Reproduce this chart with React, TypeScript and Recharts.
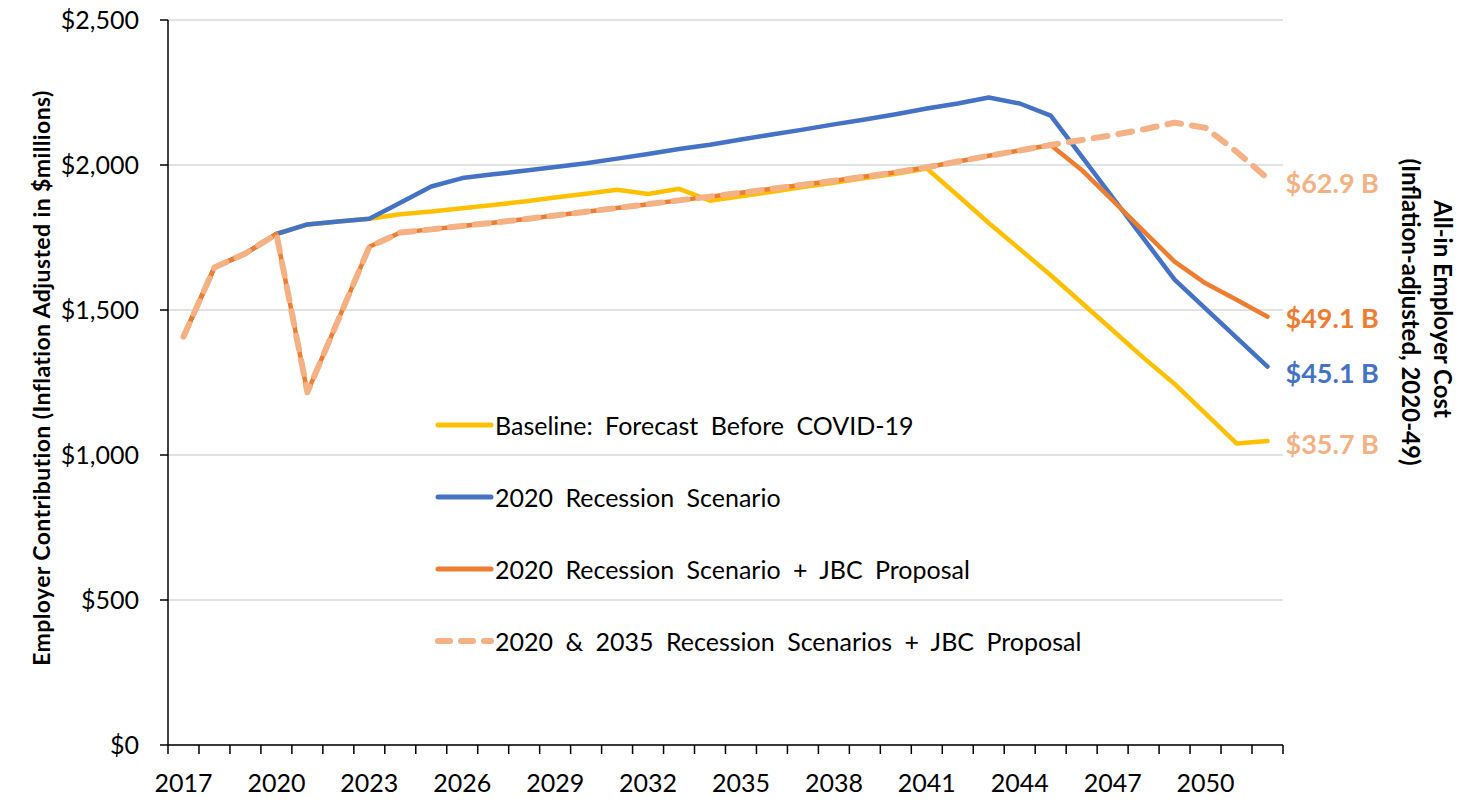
import { CartesianGrid, LabelList, Legend, Line, LineChart, XAxis, YAxis } from "recharts";

const YEARS = [
  2017, 2018, 2019, 2020, 2021, 2022, 2023, 2024, 2025, 2026, 2027, 2028,
  2029, 2030, 2031, 2032, 2033, 2034, 2035, 2036, 2037, 2038, 2039, 2040,
  2041, 2042, 2043, 2044, 2045, 2046, 2047, 2048, 2049, 2050, 2051, 2052,
];

// $ millions, inflation adjusted
const BASELINE = [
  1408, 1647, 1695, 1762, 1795, 1805, 1815, 1830, 1840, 1851, 1862, 1874,
  1888, 1901, 1915, 1900, 1918, 1877, 1892, 1908, 1924, 1939, 1955, 1970,
  1988, 1895, 1800, 1710, 1620, 1525, 1430, 1335, 1245, 1143, 1040, 1048,
];

const RECESSION = [
  1408, 1647, 1695, 1762, 1795, 1805, 1815, 1870, 1926, 1955, 1968, 1980,
  1993, 2006, 2022, 2038, 2055, 2070, 2088, 2105, 2122, 2140, 2157, 2175,
  2195, 2212, 2233, 2212, 2170, 2030, 1888, 1746, 1605, 1505, 1405, 1305,
];

const RECESSION_JBC = [
  1408, 1647, 1695, 1762, 1216, 1467, 1718, 1767, 1778, 1790, 1801, 1813,
  1826, 1839, 1852, 1865, 1878, 1891, 1904, 1918, 1932, 1946, 1960, 1975,
  1992, 2012, 2032, 2050, 2069, 1983, 1878, 1772, 1667, 1592, 1535, 1477,
];

const TWO_RECESSIONS_JBC = [
  1408, 1647, 1695, 1762, 1216, 1467, 1718, 1767, 1778, 1790, 1801, 1813,
  1826, 1839, 1852, 1865, 1878, 1891, 1904, 1918, 1932, 1946, 1960, 1975,
  1992, 2012, 2032, 2050, 2069, 2086, 2103, 2123, 2146, 2128, 2046, 1954,
];

const Y_TICKS = [0, 500, 1000, 1500, 2000, 2500];

const SERIES = [
  {
    key: "baseline",
    name: "Baseline: Forecast Before COVID-19",
    values: BASELINE,
    color: "#FFC000",
    endLabel: "$35.7 B",
    labelColor: "#F4B183",
    labelDy: 2,
  },
  {
    key: "recession",
    name: "2020 Recession Scenario",
    values: RECESSION,
    color: "#4472C4",
    endLabel: "$45.1 B",
    labelColor: "#4472C4",
    labelDy: 6,
  },
  {
    key: "recessionJbc",
    name: "2020 Recession Scenario + JBC Proposal",
    values: RECESSION_JBC,
    color: "#ED7D31",
    endLabel: "$49.1 B",
    labelColor: "#ED7D31",
    labelDy: 1,
  },
  {
    key: "twoRecessionsJbc",
    name: "2020 & 2035 Recession Scenarios + JBC Proposal",
    values: TWO_RECESSIONS_JBC,
    color: "#F4B183",
    dash: "14 11",
    endLabel: "$62.9 B",
    labelColor: "#F4B183",
    labelDy: 4,
  },
];

const data = YEARS.map((year, i) => {
  const row: Record<string, number> = { year };
  SERIES.forEach((s) => {
    row[s.key] = s.values[i];
  });
  return row;
});

const FONT = "Lato, 'Open Sans', sans-serif";
const HALF_STEP = 15.5;
const LAST_YEAR = YEARS[YEARS.length - 1];

function YearTick(props: any) {
  const { x, y, payload } = props;
  const year = payload.value;
  return (
    <g>
      <line x1={x - HALF_STEP} x2={x - HALF_STEP} y1={y} y2={y + 9} stroke="#000" strokeWidth={1.5} />
      {year === LAST_YEAR && (
        <line x1={x + HALF_STEP} x2={x + HALF_STEP} y1={y} y2={y + 9} stroke="#000" strokeWidth={1.5} />
      )}
      {(year - YEARS[0]) % 3 === 0 && (
        <text x={x} y={y + 47} textAnchor="middle" fontFamily={FONT} fontSize={25} fill="#000">
          {year}
        </text>
      )}
    </g>
  );
}

function makeEndLabel(s: (typeof SERIES)[number]) {
  return (props: any) => {
    if (props.index !== YEARS.length - 1) return null;
    return (
      <text
        x={props.x + 18}
        y={props.y + s.labelDy}
        dominantBaseline="central"
        fontFamily={FONT}
        fontSize={27}
        fontWeight="bold"
        fill={s.labelColor}
      >
        {s.endLabel}
      </text>
    );
  };
}

function LegendBox() {
  return (
    <div style={{ fontFamily: FONT }}>
      {SERIES.map((s) => (
        <div key={s.key} style={{ display: "flex", alignItems: "center", height: 72 }}>
          <svg width={60} height={12}>
            <line
              x1={3}
              x2={56}
              y1={6}
              y2={6}
              stroke={s.color}
              strokeWidth={s.dash ? 6 : 5}
              strokeLinecap="round"
              strokeDasharray={s.dash ? "12 11" : undefined}
            />
          </svg>
          <span style={{ fontSize: 25, color: "#000", wordSpacing: 6, whiteSpace: "nowrap" }}>{s.name}</span>
        </div>
      ))}
    </div>
  );
}

function LeftTitle() {
  return (
    <text
      transform="translate(41,378) rotate(-90)"
      textAnchor="middle"
      dominantBaseline="central"
      fontFamily={FONT}
      fontSize={23}
      letterSpacing={0.4}
      fontWeight="bold"
      fill="#000"
    >
      Employer Contribution (Inflation Adjusted in $millions)
    </text>
  );
}

export default function App() {
  return (
    <div style={{ position: "absolute", left: 0, top: 0, width: 1470, height: 802, background: "#fff" }}>
      <LineChart width={1470} height={802} data={data} margin={{ top: 20, right: 187, bottom: 0, left: 0 }}>
        <CartesianGrid vertical={false} stroke="#D9D9D9" strokeWidth={1.5} />
        <XAxis
          dataKey="year"
          interval={0}
          height={57}
          padding={{ left: HALF_STEP, right: HALF_STEP }}
          tickSize={0}
          tickMargin={0}
          tickLine={false}
          axisLine={{ stroke: "#000", strokeWidth: 1.5 }}
          tick={<YearTick />}
        />
        <YAxis
          domain={[0, 2500]}
          ticks={Y_TICKS}
          width={168}
          tickSize={8}
          tickMargin={21}
          axisLine={{ stroke: "#000", strokeWidth: 1.5 }}
          tickLine={{ stroke: "#000", strokeWidth: 1.5 }}
          tick={{ fill: "#000", fontSize: 25, fontFamily: FONT }}
          tickFormatter={(v: number) => "$" + v.toLocaleString("en-US")}
          label={{ content: <LeftTitle /> }}
        />
        {SERIES.map((s) => (
          <Line
            key={s.key}
            type="linear"
            dataKey={s.key}
            name={s.name}
            stroke={s.color}
            strokeWidth={s.dash ? 6 : 4.5}
            strokeDasharray={s.dash}
            strokeLinecap="round"
            strokeLinejoin="round"
            dot={false}
            activeDot={false}
            isAnimationActive={false}
          >
            <LabelList dataKey={s.key} content={makeEndLabel(s)} />
          </Line>
        ))}
        <Legend
          layout="vertical"
          align="center"
          verticalAlign="middle"
          wrapperStyle={{ left: 435, top: 389, width: 760 }}
          content={() => <LegendBox />}
        />
      </LineChart>
      <svg
        width={1470}
        height={802}
        style={{ position: "absolute", left: 0, top: 0, pointerEvents: "none" }}
      >
        <text
          transform="translate(1443,309) rotate(90)"
          textAnchor="middle"
          dominantBaseline="central"
          fontFamily={FONT}
          fontSize={24}
          fontWeight="bold"
          fill="#000"
        >
          All-in Employer Cost
        </text>
        <text
          transform="translate(1411,312) rotate(90)"
          textAnchor="middle"
          dominantBaseline="central"
          fontFamily={FONT}
          fontSize={24}
          fontWeight="bold"
          fill="#000"
        >
          (Inflation-adjusted, 2020-49)
        </text>
      </svg>
    </div>
  );
}
